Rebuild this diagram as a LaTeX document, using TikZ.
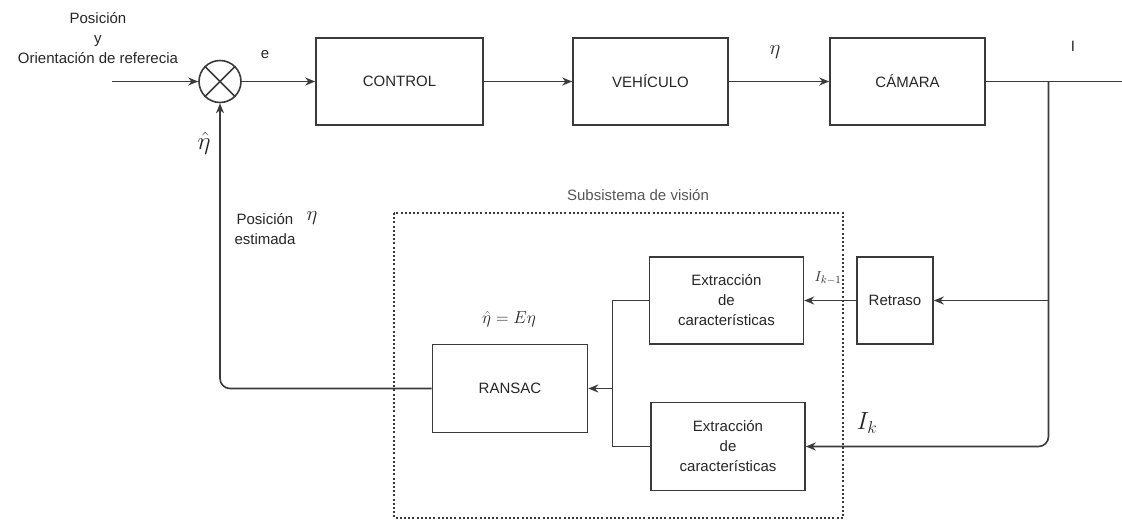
\documentclass[tikz,border=0pt]{standalone}
\usepackage{fontspec}
\setmainfont{Liberation Sans}
\usetikzlibrary{arrows.meta}
\usetikzlibrary{positioning}

\definecolor{trazo}{HTML}{3A3A3A}
\definecolor{texto}{HTML}{262626}
\definecolor{gris}{HTML}{555555}

\tikzset{
  bloque/.style={draw=trazo, line width=1.6pt, rectangle, minimum height=87pt, text=texto, align=center, inner sep=0pt},
  flecha/.style={draw=trazo, line width=1.6pt, -{Stealth[length=10pt,width=8pt]}},
  linea/.style={draw=trazo, line width=1.6pt},
  etiqueta/.style={text=texto, align=center, inner sep=0pt},
}

\begin{document}
\begin{tikzpicture}[x=1pt, y=-1pt, font=\fontsize{15}{20}\selectfont]
    \useasboundingbox (0,0) rectangle (1122,522);

    % lazo principal
    \node[circle, draw=trazo, line width=1.6pt, minimum size=42pt, inner sep=0pt] (suma) at (220,81.5) {};
    \draw[linea] (suma.north west) -- (suma.south east);
    \draw[linea] (suma.north east) -- (suma.south west);
    \node[bloque, minimum width=167pt] (control) at (399.5,81.5) {CONTROL};
    \node[bloque, minimum width=155pt] (vehiculo) at (650.5,81.5) {VEHÍCULO};
    \node[bloque, minimum width=155pt] (camara) at (907.5,81.5) {CÁMARA};

    % subsistema de vision
    \node[bloque, minimum width=76pt] (retraso) at (895,300.5) {Retraso};
    \node[bloque, minimum width=154pt] (extrac1) [left=52pt of retraso] {Extracción\\de\\características};
    \node[bloque, minimum width=154pt, minimum height=88pt] (extrac2) at (728,446.5) {Extracción\\de\\características};
    \node[bloque, minimum width=155pt, minimum height=88pt] (ransac) at (510,388.5) {RANSAC};
    \draw[draw=trazo, line width=1.2pt, dash pattern=on 2pt off 2.2pt] (394,213) rectangle (843,518);

    \coordinate (entrada) at (112,81.5);
    \coordinate (salida) at (1122,81.5);
    \coordinate (rama) at (1048.5,81.5);
    \coordinate (union) at (612.5,388.5);

    \draw[flecha] (entrada) -- (suma);
    \draw[flecha] (suma) -- (control);
    \draw[flecha] (control) -- (vehiculo);
    \draw[flecha] (vehiculo) -- (camara);
    \draw[linea] (camara) -- (salida);
    \draw[flecha] (rama) |- (retraso.east);
    \draw[flecha, rounded corners=10pt] (rama) |- (extrac2.east);
    \draw[flecha] (retraso) -- (extrac1);
    \draw[linea] (extrac1.west) -| (union) |- (extrac2.west);
    \draw[flecha] (union) -- (ransac.east);
    \draw[flecha, rounded corners=10pt] (ransac.west) -| (suma.south);

    % etiquetas
    \node[etiqueta] (referencia) at (98,38) {Posición\\y\\Orientación de referecia};
    \node[etiqueta] (error) at (265,55) {e};
    \node[etiqueta, font=\fontsize{20}{24}\selectfont] (eta) at (775,52) {$\eta$};
    \node[etiqueta] (imagen) at (1073,46) {I};
    \node[etiqueta, font=\fontsize{24}{28}\selectfont] (etagorro) at (204,143) {$\hat{\eta}$};
    \node[etiqueta] (estimada) at (265,229) {Posición\\estimada};
    \node[etiqueta, font=\fontsize{20}{24}\selectfont] (etaest) at (312,218) {$\eta$};
    \node[etiqueta, text=gris] (subsistema) at (638,195) {Subsistema de visión};
    \node[etiqueta, font=\fontsize{16.5}{20}\selectfont] (modelo) at (509,319) {$\hat{\eta}=E\eta$};
    \node[etiqueta] (ianterior) at (828,278) {$I_{k-1}$};
    \node[etiqueta, font=\fontsize{24}{28}\selectfont] (iactual) at (867,423) {$I_k$};
\end{tikzpicture}
\end{document}
